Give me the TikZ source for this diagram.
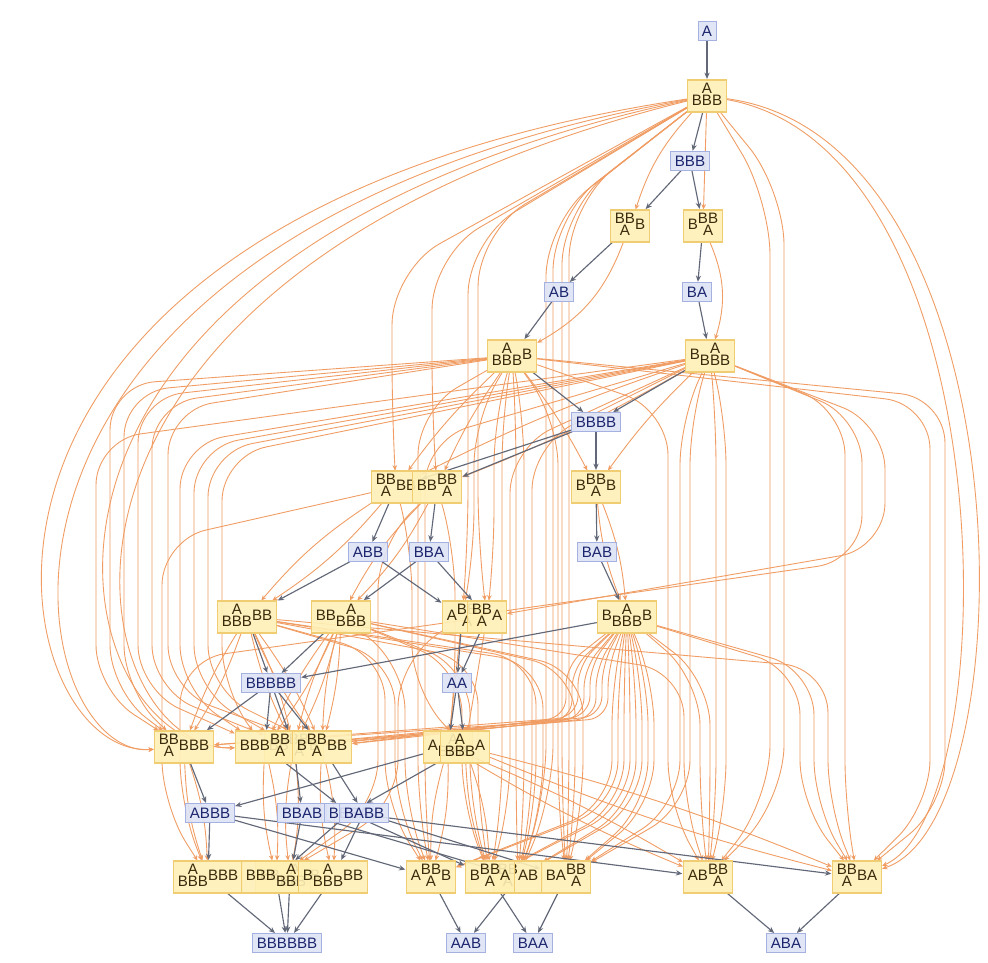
\documentclass[tikz,border=0pt]{standalone}
\usepackage{fontspec}
\setmainfont{Liberation Sans}
\usetikzlibrary{arrows.meta}
\definecolor{ocol}{RGB}{240,156,98}
\definecolor{gcol}{RGB}{98,104,120}
\definecolor{sfill}{RGB}{222,228,247}
\definecolor{sdraw}{RGB}{165,178,225}
\definecolor{stext}{RGB}{28,38,110}
\definecolor{efill}{RGB}{255,240,182}
\definecolor{edraw}{RGB}{240,204,115}
\definecolor{etext}{RGB}{58,44,12}
\pgfdeclarelayer{bg}\pgfdeclarelayer{mid}\pgfsetlayers{bg,mid,main}
\newcommand\stk[2]{\begin{tabular}{@{}c@{}}#1\\[-3pt]#2\end{tabular}}
\newcommand\oD[3][0]{\draw[oe] (#2) to[bend left=#1] (#3);}
\newcommand\oL[6][0.9cm]{\draw[oe,rounded corners=#1] (#2) -- (#4,#5) -- (#4,#6) -- (#3);}
\newcommand\oC[4]{\draw[oe] (#1) .. controls (#3) and (#4) .. (#2);}
\newcommand\gL[2]{\draw[gedge] (#1) -- (#2);}
\begin{document}
\begin{tikzpicture}[x=0.02cm,y=-0.02cm,
  font=\fontsize{8.6pt}{10pt}\selectfont,
  st/.style={draw=sdraw,fill=sfill,text=stext,line width=0.5pt,inner xsep=0.08cm,inner ysep=0pt,minimum height=0.37cm,fill opacity=0.9,text opacity=1},
  ev/.style={draw=edraw,fill=efill,text=etext,line width=0.6pt,inner xsep=0.09cm,inner ysep=0pt,minimum height=0.64cm,fill opacity=0.9,text opacity=1},
  oe/.style={draw=ocol,line width=0.5pt,-{Stealth[length=3pt,width=2.6pt]}},
  gedge/.style={draw=gcol,line width=0.65pt,-{Stealth[length=3.6pt,width=3pt]},shorten >=0.3pt}]
\useasboundingbox (0,0) rectangle (988,963);
% nodes
\node[st] (sA) at (707,31) {A};
\node[ev] (e1) at (707,96) {\stk{A}{BBB}};
\node[st] (sBBB) at (690,161) {BBB};
\node[ev] (e2) at (630,226) {\stk{BB}{A}B};
\node[ev] (e3) at (703,226) {B\stk{BB}{A}};
\node[st] (sAB) at (559,292) {AB};
\node[st] (sBA) at (697,292) {BA};
\node[ev] (e4) at (512,356) {\stk{A}{BBB}B};
\node[ev] (e5) at (710,356) {B\stk{A}{BBB}};
\node[st] (sBBBB) at (596,422) {BBBB};
\node[ev] (e6) at (396,487) {\stk{BB}{A}BB};
\node[ev] (e7) at (437,487) {BB\stk{BB}{A}};
\node[ev] (e8) at (596,487) {B\stk{BB}{A}B};
\node[st] (sABB) at (368,552) {ABB};
\node[st] (sBBA) at (429,552) {BBA};
\node[st] (sBAB) at (597,552) {BAB};
\node[ev] (e9) at (247,617) {\stk{A}{BBB}BB};
\node[ev] (e10) at (341,617) {BB\stk{A}{BBB}};
\node[ev] (e11) at (462,617) {A\stk{BB}{A}};
\node[ev] (e12) at (487,617) {\stk{BB}{A}A};
\node[ev] (e13) at (627,617) {B\stk{A}{BBB}B};
\node[st] (sB5) at (271,683) {BBBBB};
\node[st] (sAA) at (457,683) {AA};
\node[ev] (e14) at (184,747) {\stk{BB}{A}BBB};
\node[ev] (e15b) at (294,747) {BB\stk{BB}{A}B};
\node[ev] (e15c) at (265,747) {BBB\stk{BB}{A}};
\node[ev] (e15a) at (322,747) {B\stk{BB}{A}BB};
\node[ev] (e16b) at (448,747) {A\stk{A}{BBB}};
\node[ev] (e16a) at (465,747) {\stk{A}{BBB}A};
\node[st] (sABBB) at (210,813) {ABBB};
\node[st] (sBBAB) at (302,813) {BBAB};
\node[st] (sBBBA) at (349,813) {BBBA};
\node[st] (sBABB) at (364,813) {BABB};
\node[ev] (f1) at (208,877) {\stk{A}{BBB}BBB};
\node[ev] (f4) at (290,877) {BB\stk{A}{BBB}B};
\node[ev] (f6) at (276,877) {BBB\stk{A}{BBB}};
\node[ev] (f9) at (333,877) {B\stk{A}{BBB}BB};
\node[ev] (f2) at (431,877) {A\stk{BB}{A}B};
\node[ev] (f5) at (518,877) {\stk{BB}{A}AB};
\node[ev] (f8) at (490,877) {B\stk{BB}{A}A};
\node[ev] (f10) at (566,877) {BA\stk{BB}{A}};
\node[ev] (f3) at (708,877) {AB\stk{BB}{A}};
\node[ev] (f7) at (857,877) {\stk{BB}{A}BA};
\node[st] (sB6) at (287,943) {BBBBBB};
\node[st] (sAAB) at (466,943) {AAB};
\node[st] (sBAA) at (533,943) {BAA};
\node[st] (sABA) at (786,943) {ABA};
\begin{pgfonlayer}{bg}
\fill[white] (0,0) rectangle (988,963);
% E1
\oD{e1}{e3}
\oD[-12]{e1}{e2}
\oL[1.1cm]{e1}{e6}{392}{270}{415}
\oL[1.1cm]{e1}{e7}{432}{255}{415}
\oL[1.1cm]{e1}{e11}{468}{240}{545}
\oL[1.1cm]{e1}{e12}{478}{232}{545}
\oC{e1}{e14}{-120,220}{0,760}
\oC{e1}{e14}{-90,240}{20,760}
\oC{e1}{e15c}{-60,260}{60,752}
\oC{e1}{e15c}{-30,280}{80,752}
\oL[1.1cm]{e1}{f5}{546}{222}{800}
\oL[1.1cm]{e1}{f5}{553}{216}{800}
\oL[1.1cm]{e1}{f10}{562}{210}{800}
\oL[1.1cm]{e1}{f10}{569}{204}{800}
\oL[1.1cm]{e1}{f3}{770}{200}{800}
\oL[1.1cm]{e1}{f3}{784}{190}{800}
\oC{e1}{f7}{1030,140}{1030,820}
\oC{e1}{f7}{1008,150}{1008,810}
% E2, E3
\oD[20]{e2}{e4}
\oD[20]{e3}{e5}
% E4
\oD[-5]{e4}{e6}
\oD[-5]{e4}{e7}
\oD[5]{e4}{e8}
\oL{e4}{e11}{474}{420}{555}
\oL{e4}{e12}{494}{420}{555}
\oL{e4}{e14}{110}{385}{690}
\oL{e4}{e14}{124}{392}{690}
\oL{e4}{e15c}{138}{398}{690}
\oL{e4}{e15b}{152}{404}{690}
\oL{e4}{e15a}{168}{410}{690}
\oL{e4}{f2}{418}{410}{805}
\oL{e4}{f3}{668}{410}{805}
\oL{e4}{f5}{516}{420}{805}
\oL{e4}{f5}{524}{420}{805}
\oL{e4}{f7}{930}{404}{805}
\oL{e4}{f7}{945}{398}{805}
\oL{e4}{f8}{502}{420}{805}
\oL{e4}{f10}{558}{420}{805}
% E5
\oD[-4]{e5}{e6}
\oD[4]{e5}{e7}
\oD[-5]{e5}{e8}
\oL{e5}{e11}{862}{418}{560}
\oL{e5}{e12}{885}{424}{548}
\oL{e5}{e14}{96}{440}{690}
\oL{e5}{e15c}{180}{444}{690}
\oL{e5}{e15b}{194}{448}{690}
\oL{e5}{e15a}{208}{452}{690}
\oL{e5}{e15c}{222}{456}{690}
\oL{e5}{f2}{425}{440}{805}
\oL{e5}{f3}{716}{420}{805}
\oL{e5}{f3}{726}{420}{805}
\oL{e5}{f5}{532}{445}{805}
\oL{e5}{f7}{845}{410}{805}
\oL{e5}{f8}{510}{448}{805}
\oL{e5}{f10}{680}{420}{805}
\oL{e5}{f10}{690}{420}{805}
% E6, E7, E8
\oD[8]{e6}{e9}
\oD[-8]{e6}{e9}
\oL{e6}{e16a}{412}{550}{690}
\oL{e6}{f1}{162}{540}{805}
\oD[8]{e7}{e10}
\oD[-8]{e7}{e10}
\oL{e7}{e16b}{455}{550}{690}
\oL{e7}{f6}{378}{545}{805}
\oD[8]{e8}{e13}
\oD[-8]{e8}{e13}
% E9
\oD[6]{e9}{e14}
\oD[-6]{e9}{e14}
\oD[6]{e9}{e15a}
\oD[-6]{e9}{e15a}
\oD[6]{e9}{e15b}
\oD[-6]{e9}{e15b}
\oL{e9}{f2}{385}{655}{805}
\oL{e9}{f2}{395}{660}{805}
\oL{e9}{f5}{536}{660}{805}
\oL{e9}{f5}{543}{664}{805}
\oL{e9}{f7}{828}{668}{805}
\oL{e9}{f8}{478}{660}{805}
% E10
\oD[6]{e10}{e15a}
\oD[-6]{e10}{e15a}
\oD[6]{e10}{e15b}
\oD[-6]{e10}{e15b}
\oD[6]{e10}{e15c}
\oD[-6]{e10}{e15c}
\oL{e10}{f2}{405}{665}{805}
\oL{e10}{f3}{684}{672}{805}
\oL{e10}{f8}{462}{668}{805}
\oL{e10}{f8}{470}{668}{805}
\oL{e10}{f10}{575}{670}{805}
\oL{e10}{f10}{583}{670}{805}
% E11, E12
\oD{e11}{e16b}
\oL{e11}{f6}{398}{662}{805}
\oD{e12}{e16a}
\oL{e12}{f1}{180}{660}{805}
% E13
\oL[0.4cm]{e13}{e14}{566}{665}{718}
\oL[0.4cm]{e13}{e14}{572}{668}{720}
\oL[0.4cm]{e13}{e15a}{578}{665}{716}
\oL[0.4cm]{e13}{e15a}{584}{668}{718}
\oL[0.4cm]{e13}{e15b}{590}{665}{716}
\oL[0.4cm]{e13}{e15b}{596}{668}{718}
\oL[0.4cm]{e13}{e15c}{602}{665}{716}
\oL[0.4cm]{e13}{e15c}{608}{668}{718}
\oL{e13}{f2}{612}{680}{805}
\oL{e13}{f2}{618}{680}{805}
\oL{e13}{f8}{624}{680}{805}
\oL{e13}{f8}{630}{680}{805}
\oL{e13}{f5}{636}{680}{805}
\oL{e13}{f5}{642}{680}{805}
\oL{e13}{f10}{648}{680}{805}
\oL{e13}{f10}{654}{680}{805}
\oL{e13}{f3}{700}{680}{805}
\oL{e13}{f3}{710}{680}{805}
\oL{e13}{f7}{800}{670}{805}
\oL{e13}{f7}{814}{670}{805}
% rows 747 -> 877
\oD[8]{e14}{f1}
\oD[-8]{e14}{f1}
\oD[8]{e15a}{f9}
\oD[-8]{e15a}{f9}
\oD[8]{e15b}{f4}
\oD[-8]{e15b}{f4}
\oD[8]{e15c}{f6}
\oD[-8]{e15c}{f6}
\oD[4]{e16a}{f7}
\oD[-4]{e16a}{f7}
\oD[8]{e16a}{f8}
\oD[-8]{e16a}{f8}
\oD[8]{e16b}{f2}
\oD[-8]{e16b}{f2}
\oD[4]{e16b}{f3}
\oD[-4]{e16b}{f3}
\end{pgfonlayer}
\begin{pgfonlayer}{mid}
\gL{sA}{e1} \gL{e1}{sBBB} \gL{sBBB}{e2} \gL{sBBB}{e3} \gL{e2}{sAB} \gL{e3}{sBA}
\gL{sAB}{e4} \gL{sBA}{e5} \gL{e4}{sBBBB} \gL{e5}{sBBBB}
\gL{sBBBB}{e6} \gL{sBBBB}{e7} \gL{sBBBB}{e8} \gL{e6}{sABB} \gL{e7}{sBBA} \gL{e8}{sBAB}
\gL{sABB}{e9} \gL{sABB}{e11} \gL{sBBA}{e10} \gL{sBBA}{e12} \gL{sBAB}{e13}
\gL{e9}{sB5} \gL{e10}{sB5} \gL{e13}{sB5} \gL{e11}{sAA} \gL{e12}{sAA}
\gL{sB5}{e14} \gL{sB5}{e15c} \gL{sB5}{e15b} \gL{sB5}{e15a} \gL{sAA}{e16b} \gL{sAA}{e16a}
\gL{e14}{sABBB} \gL{e15c}{sBBBA} \gL{e15b}{sBBAB} \gL{e15a}{sBABB} \gL{e16b}{sABBB} \gL{e16a}{sBBBA}
\gL{sABBB}{f1} \gL{sABBB}{f2} \gL{sABBB}{f3} \gL{sBBAB}{f4} \gL{sBBAB}{f5}
\gL{sBBBA}{f6} \gL{sBBBA}{f7} \gL{sBBBA}{f8} \gL{sBABB}{f9} \gL{sBABB}{f10}
\gL{f1}{sB6} \gL{f6}{sB6} \gL{f4}{sB6} \gL{f9}{sB6} \gL{f2}{sAAB} \gL{f5}{sAAB}
\gL{f8}{sBAA} \gL{f10}{sBAA} \gL{f3}{sABA} \gL{f7}{sABA}
\end{pgfonlayer}
\end{tikzpicture}
\end{document}
